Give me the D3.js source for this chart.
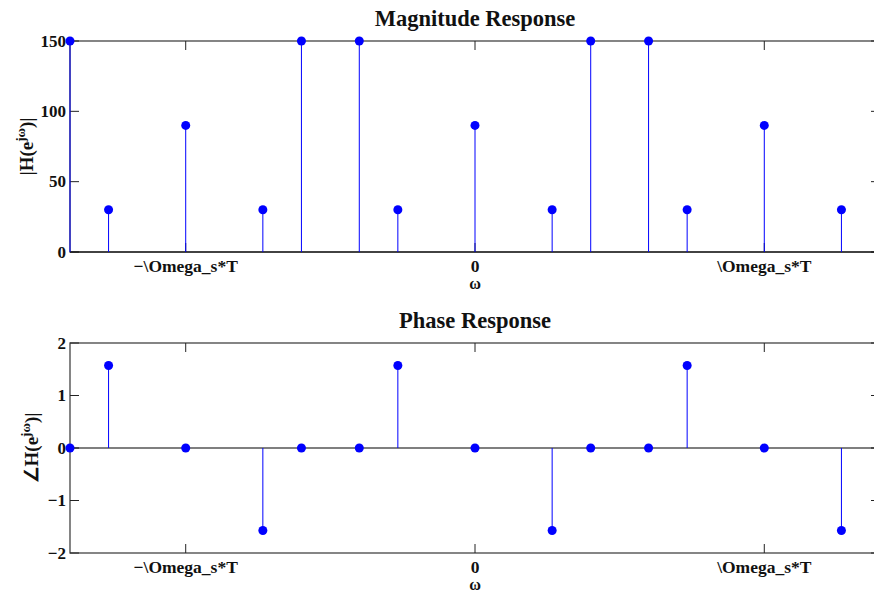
<!DOCTYPE html>
<html>
<head>
<meta charset="utf-8">
<script src="https://cdn.jsdelivr.net/npm/d3@7"></script>
<style>
  html,body{margin:0;padding:0;background:#fff;overflow:hidden;}
  svg{display:block;font-family:"Liberation Serif","Times New Roman",serif;font-weight:bold;}
</style>
</head>
<body>
<svg id="chart" width="874" height="595"></svg>
<script>
// stem plot data
const omega     = [-21, -19, -15, -11, -9, -6, -4, 0, 4, 6, 9, 11, 15, 19];
const magnitude = [150, 30, 90, 30, 150, 150, 30, 90, 30, 150, 150, 30, 90, 30];
const phase     = [0, 1.5708, 0, -1.5708, 0, 0, 1.5708, 0, -1.5708, 0, 0, 1.5708, 0, -1.5708];
const xTicks      = [-15, 0, 15];
const xTickLabels = ['\u2212\\Omega_s*T', '0', '\\Omega_s*T'];
const magTicks   = [0, 50, 100, 150];
const phaseTicks = [-2, -1, 0, 1, 2];

const svg = d3.select('#chart');
const L = 70, R = 880;
const x = d3.scaleLinear().domain([-21, 21]).range([L, R]);

function panel(o){
  const y = d3.scaleLinear().domain(o.domain).range([o.bottom, o.top]);
  const g = svg.append('g');
  const TL = 9;

  // frame
  g.append('rect').attr('x', L).attr('y', o.top).attr('width', R - L).attr('height', o.bottom - o.top)
    .attr('fill', 'none').attr('stroke', '#444').attr('stroke-width', 1.3);

  // x ticks (inward, top & bottom)
  xTicks.forEach((t, i) => {
    g.append('line').attr('x1', x(t)).attr('x2', x(t)).attr('y1', o.bottom).attr('y2', o.bottom - TL).attr('stroke', '#222');
    g.append('line').attr('x1', x(t)).attr('x2', x(t)).attr('y1', o.top).attr('y2', o.top + TL).attr('stroke', '#222');
    g.append('text').attr('x', x(t)).attr('y', o.bottom + 20).attr('text-anchor', 'middle')
      .attr('font-size', 17.5).attr('fill', '#111').text(xTickLabels[i]);
  });
  // y ticks (inward, left & right)
  o.ticks.forEach(t => {
    g.append('line').attr('x1', L).attr('x2', L + TL).attr('y1', y(t)).attr('y2', y(t)).attr('stroke', '#222');
    g.append('line').attr('x1', R).attr('x2', R - TL).attr('y1', y(t)).attr('y2', y(t)).attr('stroke', '#222');
    g.append('text').attr('x', L - 4).attr('y', y(t) + 5.5).attr('text-anchor', 'end')
      .attr('font-size', 17).attr('fill', '#111').text(d3.format('')(t).replace('-', '\u2212'));
  });

  // baseline
  g.append('line').attr('x1', L).attr('x2', R).attr('y1', y(0)).attr('y2', y(0)).attr('stroke', '#000').attr('stroke-width', 1.2);

  // stems
  const pts = omega.map((w, i) => ({w, v: o.values[i]}));
  g.selectAll('line.stem').data(pts).join('line').attr('class', 'stem')
    .attr('x1', d => x(d.w)).attr('x2', d => x(d.w)).attr('y1', y(0)).attr('y2', d => y(d.v))
    .attr('stroke', '#0000ff').attr('stroke-width', 1);
  g.selectAll('circle').data(pts).join('circle')
    .attr('cx', d => x(d.w)).attr('cy', d => y(d.v)).attr('r', 4.5).attr('fill', '#0000ff');

  // title and labels
  g.append('text').attr('x', x(0)).attr('y', o.top - 15).attr('text-anchor', 'middle')
    .attr('font-size', 22.5).attr('fill', '#111').text(o.title);
  g.append('text').attr('x', x(0)).attr('y', o.bottom + 37).attr('text-anchor', 'middle')
    .attr('font-size', 16).attr('fill', '#111').text('\u03c9');

  const yl = g.append('text').attr('transform', `translate(${o.ylx},${(o.top + o.bottom) / 2}) rotate(-90)`)
    .attr('text-anchor', 'middle').attr('font-size', 19).attr('fill', '#111');
  yl.append('tspan').text(o.ypre + 'H(e');
  yl.append('tspan').attr('dy', -8).attr('font-size', 13).text('j\u03c9');
  yl.append('tspan').attr('dy', 8).text(')|');
}

panel({top: 41, bottom: 252, domain: [0, 150], ticks: magTicks, values: magnitude,
       title: 'Magnitude Response', ylx: 33, ypre: '|'});
panel({top: 343, bottom: 553, domain: [-2, 2], ticks: phaseTicks, values: phase,
       title: 'Phase Response', ylx: 38, ypre: '\u2220'});
</script>
</body>
</html>
